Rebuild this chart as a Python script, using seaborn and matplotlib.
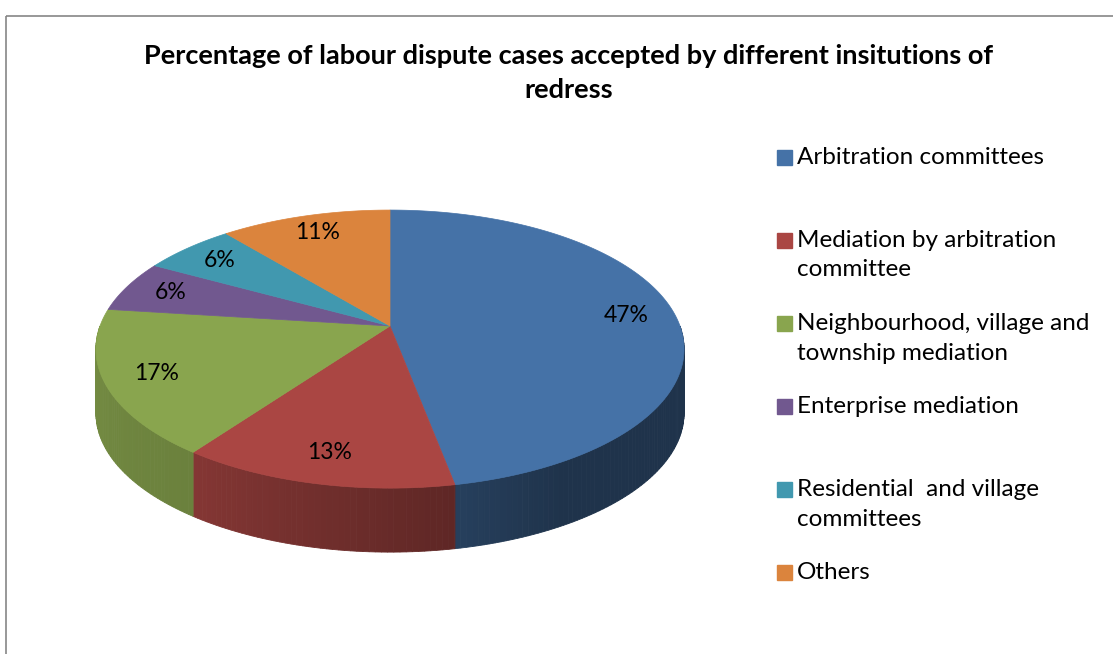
import matplotlib
matplotlib.use("Agg")
import matplotlib.pyplot as plt
import numpy as np
import seaborn as sns
from matplotlib.patches import Rectangle

# chart data
categories = [
    "Arbitration committees",
    "Mediation by arbitration\ncommittee",
    "Neighbourhood, village and\ntownship mediation",
    "Enterprise mediation",
    "Residential  and village\ncommittees",
    "Others",
]
shares = [47, 13, 17, 6, 6, 11]
colors = ["#4572A7", "#AA4643", "#89A54E", "#71588F", "#4198AF", "#DB843D"]
title = "Percentage of labour dispute cases accepted by different insitutions of\nredress"

sns.set_theme(style="white")
plt.rcParams["font.family"] = ["Lato", "DejaVu Sans"]
plt.rcParams["text.color"] = "black"

# pixel-space geometry of the tilted pie
cx, cy = 390, 326        # apex of the wedges
a, b = 290, 135.2        # horizontal / vertical radius
c = 0.166                # perspective strength
depth = 64               # wall height


def proj(r, phi):
    phi = np.radians(phi)
    u, v = r * np.cos(phi), r * np.sin(phi)
    den = 1 + c * v
    return cx + a * u / den, cy - b * v / den


def shade(phi):
    # darker on the right-hand side of the front wall
    return np.interp(phi, [-180, -126, -78, -60, 0], [0.86, 0.78, 0.55, 0.45, 0.45])


fig = plt.figure(figsize=(11.13, 6.54), dpi=100)
ax = fig.add_axes([0, 0, 1, 1])
ax.set_xlim(0, 1113)
ax.set_ylim(654, 0)
ax.axis("off")

ax.add_patch(Rectangle((5.5, 15.5), 1200, 700, fill=False, ec="#868686", lw=1.2))

total = sum(shares)
bounds = 90 - 360 * np.concatenate([[0], np.cumsum(shares)]) / total

# front walls, drawn as thin strips for the shading
for i, col in enumerate(colors):
    hi, lo = min(bounds[i], 0), max(bounds[i + 1], -180)
    if hi <= lo:
        continue
    steps = np.linspace(lo, hi, max(int(hi - lo), 2) + 1)
    base = np.array(matplotlib.colors.to_rgb(col))
    for p0, p1 in zip(steps[:-1], steps[1:]):
        x0, y0 = proj(1, p0)
        x1, y1 = proj(1, p1)
        rgb = np.clip(base * shade((p0 + p1) / 2), 0, 1)
        ax.fill([x0, x1, x1, x0], [y0, y1, y1 + depth, y0 + depth],
                color=rgb, ec=rgb, lw=0.6)

# top faces and labels
for i, col in enumerate(colors):
    arc = np.linspace(bounds[i], bounds[i + 1], 200)
    xs, ys = proj(1, arc)
    ax.fill(np.r_[cx, xs], np.r_[cy, ys], color=col, ec=col, lw=0.5)
    mid = (bounds[i] + bounds[i + 1]) / 2
    lx, ly = proj(0.83, mid)
    ax.text(lx, ly, f"{shares[i]}%", ha="center", va="center",
            fontsize=16.5, color="black")

ax.text(569, 73, title, ha="center", va="center", fontsize=19.5,
        fontweight="bold", linespacing=1.55)

# legend
for i, (lab, col) in enumerate(zip(categories, colors)):
    y = 157 + i * 83
    ax.add_patch(Rectangle((777, y - 7.5), 15, 15, color=col))
    ax.text(797, y - 10, lab, ha="left", va="top", fontsize=17.5,
            linespacing=1.5)

fig.savefig("out.png", dpi=100)
